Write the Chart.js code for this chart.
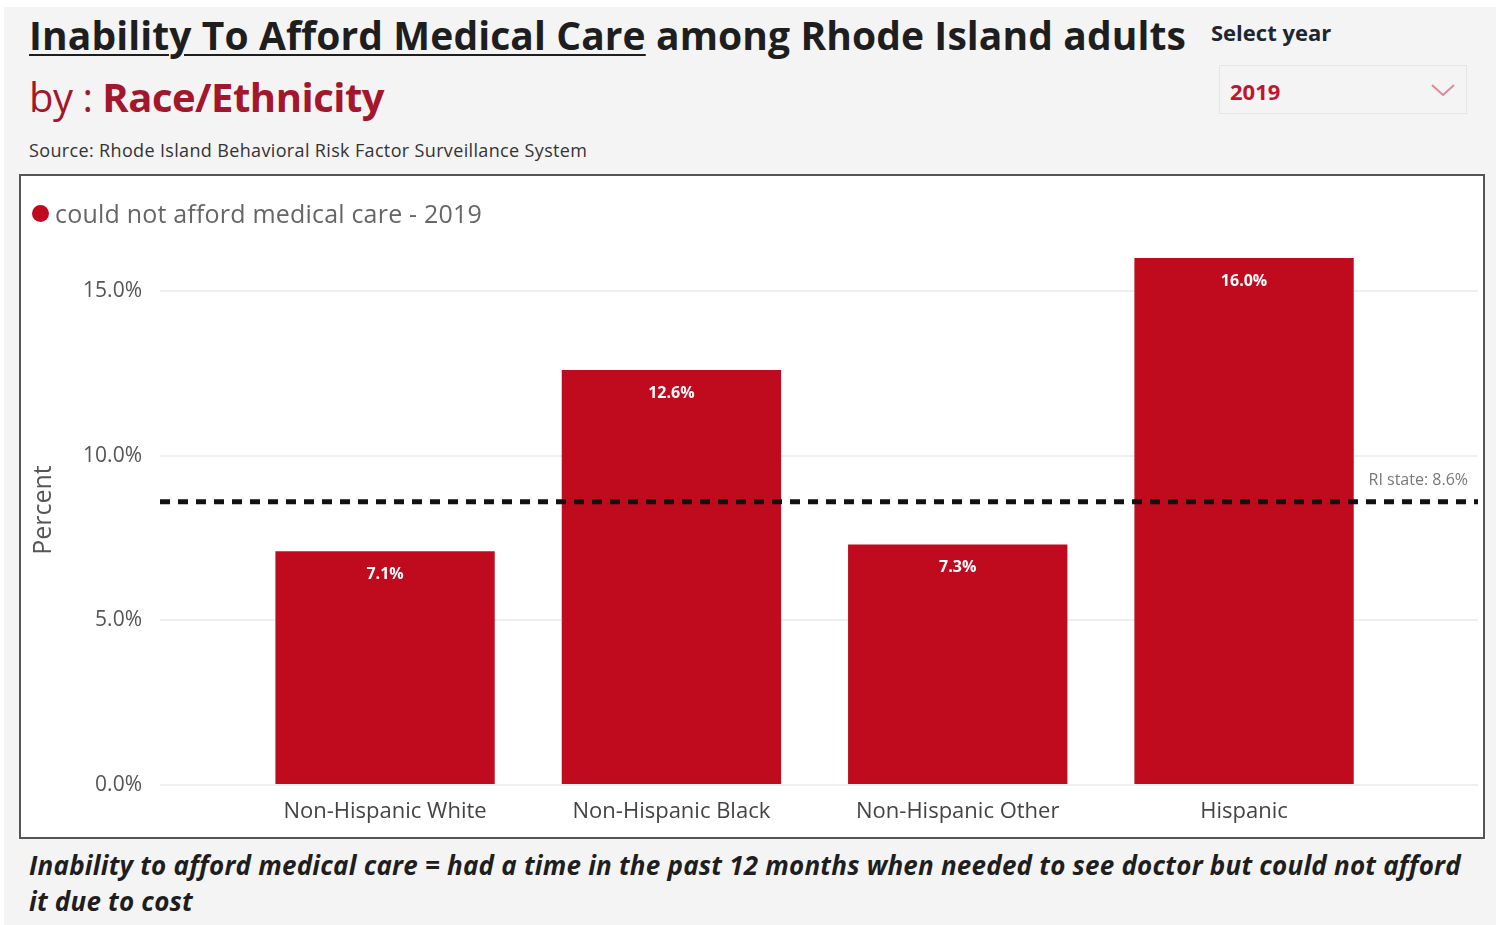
<!DOCTYPE html>
<html>
<head>
<meta charset="utf-8">
<script src="https://cdn.jsdelivr.net/npm/chart.js@4.4.1/dist/chart.umd.min.js"></script>
<style>
  html, body { margin: 0; padding: 0; background: #fff; }
  body { width: 1496px; height: 925px; position: relative; overflow: hidden; font-family: "Open Sans", "Noto Sans", sans-serif; }
  #page { position: absolute; left: 4px; top: 7px; right: 0; bottom: 0; background: #f4f4f4; }
  .abs { position: absolute; white-space: nowrap; }
  #title { left: 29px; top: 8px; font-size: 39px; font-weight: 700; color: #1e1e1e; letter-spacing: 0.1px; }
  #title u { text-decoration-thickness: 2px; text-underline-offset: 4px; }
  #by { left: 29px; top: 69px; font-size: 40px; color: #a3162b; letter-spacing: -0.5px; }
  #by b { font-weight: 700; }
  #source { left: 29px; top: 138px; font-size: 18px; color: #333; letter-spacing: 0.35px; }
  #selYear { left: 1211px; top: 17px; font-size: 22px; font-weight: 700; color: #1d2633; letter-spacing: 0px; }
  #drop { left: 1219px; top: 65px; width: 246px; height: 47px; border: 1px solid #e6e6e6; background: #f4f4f4; }
  #drop span { position: absolute; left: 10px; top: 10px; font-size: 22px; font-weight: 700; color: #c0152f; }
  #drop svg { position: absolute; right: 11px; top: 18px; }
  #box { left: 19px; top: 174px; width: 1462px; height: 661px; border: 2px solid #555; background: #fff; }
  #legend { left: 32px; top: 196px; font-size: 25px; color: #666; letter-spacing: 0.2px; }
  #legend i { display: inline-block; width: 17px; height: 17px; border-radius: 50%; background: #c00a1e; margin-right: 6px; vertical-align: 1px; }
  #note { left: 29px; top: 847px; font-size: 26px; font-weight: 700; font-style: italic; color: #1e1e1e; line-height: 36px; letter-spacing: 0.22px; }
</style>
</head>
<body>
<div id="page"></div>
<div class="abs" id="title"><u>Inability To Afford Medical Care</u> among Rhode Island adults</div>
<div class="abs" id="by">by : <b>Race/Ethnicity</b></div>
<div class="abs" id="source">Source: Rhode Island Behavioral Risk Factor Surveillance System</div>
<div class="abs" id="selYear">Select year</div>
<div class="abs" id="drop"><span>2019</span>
  <svg width="24" height="12" viewBox="0 0 24 12"><polyline points="1,1 12,11 23,1" fill="none" stroke="#e08a96" stroke-width="2"/></svg>
</div>
<div class="abs" id="box"><canvas id="chart" width="1462" height="661"></canvas></div>
<div class="abs" id="legend"><i></i>could not afford medical care - 2019</div>
<div class="abs" id="note">Inability to afford medical care = had a time in the past 12 months when needed to see doctor but could not afford<br>it due to cost</div>

<script>
// Datos del gráfico
const categorias = ['Non-Hispanic White', 'Non-Hispanic Black', 'Non-Hispanic Other', 'Hispanic'];
const porcentajes = [7.1, 12.6, 7.3, 16.0];
const yTicks = [0, 5, 10, 15];
const riState = 8.6;

const ROJO = '#c00a1e';

// Etiquetas de valor dentro de las barras
const valueLabels = {
  id: 'valueLabels',
  afterDatasetsDraw(chart) {
    const { ctx } = chart;
    const meta = chart.getDatasetMeta(0);
    ctx.save();
    ctx.fillStyle = '#fff';
    ctx.font = 'bold 16px "Open Sans", sans-serif';
    ctx.textAlign = 'center';
    ctx.textBaseline = 'middle';
    meta.data.forEach((bar, i) => {
      ctx.fillText(porcentajes[i].toFixed(1) + '%', bar.x, bar.y + 23);
    });
    ctx.restore();
  }
};

// Línea de referencia del estado
const refLine = {
  id: 'refLine',
  afterDatasetsDraw(chart) {
    const { ctx, chartArea, scales } = chart;
    const y = scales.y.getPixelForValue(riState);
    ctx.save();
    ctx.strokeStyle = '#111';
    ctx.lineWidth = 5;
    ctx.setLineDash([10, 8]);
    ctx.beginPath();
    ctx.moveTo(chartArea.left, y);
    ctx.lineTo(chartArea.right, y);
    ctx.stroke();
    ctx.setLineDash([]);
    ctx.fillStyle = '#777';
    ctx.font = '16px "Open Sans", sans-serif';
    ctx.textAlign = 'right';
    ctx.textBaseline = 'middle';
    ctx.fillText('RI state: ' + riState.toFixed(1) + '%', chartArea.right - 10, y - 21);
    ctx.restore();
  }
};

const ctx = document.getElementById('chart').getContext('2d');
new Chart(ctx, {
  type: 'bar',
  data: {
    datasets: [{
      label: 'could not afford medical care - 2019',
      data: porcentajes.map((v, i) => ({ x: i, y: v })),
      backgroundColor: ROJO,
      barPercentage: 1,
      categoryPercentage: 0.766
    }]
  },
  options: {
    responsive: false,
    animation: false,
    layout: { padding: { left: 4, top: 59, right: 5, bottom: 0 } },
    plugins: { legend: { display: false }, tooltip: { enabled: false } },
    scales: {
      x: {
        type: 'linear',
        offset: false,
        min: -0.786,
        max: 3.817,
        grid: { display: false, offset: false },
        border: { display: false },
        afterBuildTicks: (s) => { s.ticks = categorias.map((c, i) => ({ value: i })); },
        afterFit: (s) => { s.height = 52; },
        ticks: {
          padding: 6,
          color: '#444',
          font: { family: '"Open Sans", sans-serif', size: 22 },
          callback: (v) => categorias[v] ?? ''
        }
      },
      y: {
        min: 0,
        max: 16.7,
        grid: { color: '#efefef', lineWidth: 2, drawTicks: false },
        border: { display: false },
        afterBuildTicks: (s) => { s.ticks = yTicks.map((v) => ({ value: v })); },
        afterFit: (s) => { s.width = 135; },
        title: {
          display: true,
          text: 'Percent',
          color: '#555',
          font: { family: '"Open Sans", sans-serif', size: 25 }
        },
        ticks: {
          padding: 18,
          color: '#555',
          font: { family: '"Open Sans", sans-serif', size: 21 },
          callback: (v) => v.toFixed(1) + '%'
        }
      }
    }
  },
  plugins: [valueLabels, refLine]
});
</script>
</body>
</html>
